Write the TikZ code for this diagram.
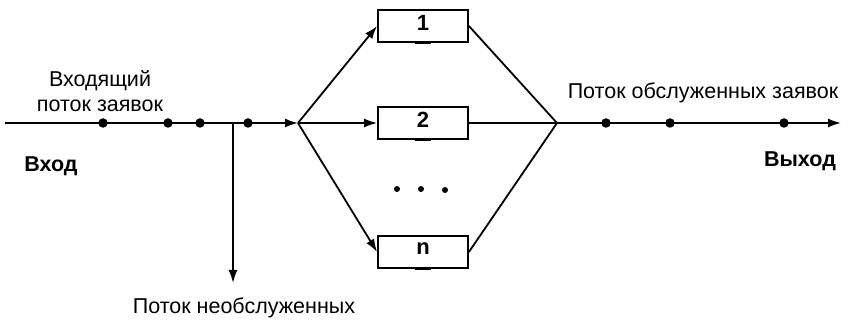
\documentclass[tikz,border=0pt]{standalone}
\usepackage{fontspec}
\setmainfont{Liberation Sans}
\usetikzlibrary{arrows.meta}
\begin{document}
\begin{tikzpicture}[x=1pt,y=-1pt,
  ln/.style={line width=1.8pt},
  arr/.style={ln,-{Latex[length=13pt,width=9pt]}},
  dot/.style={circle,fill=black,inner sep=0pt,minimum size=9.5pt},
  edot/.style={circle,fill=black,inner sep=0pt,minimum size=6pt},
  box/.style={draw,line width=1.8pt,minimum width=90pt,minimum height=32pt,inner sep=0pt},
  num/.style={font=\fontsize{22}{24}\selectfont\bfseries,inner sep=0pt},
  lbl/.style={font=\fontsize{21.5}{25}\selectfont,inner sep=0pt},
  blbl/.style={font=\fontsize{21.5}{25}\selectfont\bfseries,inner sep=0pt}]
\useasboundingbox (0,0) rectangle (849,323);
% coordinates
\coordinate (in) at (5,123);
\coordinate (s) at (298,123);
\coordinate (m) at (557,123);
\coordinate (out) at (841,123);
\coordinate (br) at (233,123);
\coordinate (brend) at (233,283);
% boxes
\node[box] (b1) at (423,26) {};
\node[box] (b2) at (423,123) {};
\node[box] (bn) at (423,252) {};
\node[num] (t1) at ([yshift=3pt]b1.center) {1};
\node[num] (t2) at ([yshift=3pt]b2.center) {2};
\node[num] (tn) at ([yshift=3pt]bn.center) {n};
% underlines
\foreach \b in {b1,b2,bn}{
  \draw[line width=3pt] ([xshift=-8pt]\b.south) -- ([xshift=8pt]\b.south);
}
% main input line
\draw[arr] (in) -- (s);
\draw[arr] (br) -- (brend);
\node[dot] (d1) at (103,123) {};
\node[dot] (d2) at (168,123) {};
\node[dot] (d3) at (200,123) {};
\node[dot] (d4) at (248,123) {};
% branches
\draw[arr] (s) -- (b1.west);
\draw[arr] (s) -- (b2.west);
\draw[arr] (s) -- (bn.west);
\draw[ln] (b1.east) -- (m);
\draw[ln] (b2.east) -- (m);
\draw[ln] (bn.east) -- (m);
% dots between
\node[edot] (e1) at (397,189) {};
\node[edot] (e2) at (421,189) {};
\node[edot] (e3) at (445,190) {};
% output
\draw[arr] (m) -- (out);
\node[dot] (o1) at (606,123) {};
\node[dot] (o2) at (670,123) {};
\node[dot] (o3) at (784,123) {};
% labels
\node[lbl,align=center] (tin) at (100,91) {Входящий\\поток заявок};
\node[blbl] (tvh) at (51,166) {Вход};
\node[blbl] (tvyh) at (800,161) {Выход};
\node[lbl] (tout) at (703,93) {Поток обслуженных заявок};
\node[lbl] (tun) at (244,308) {Поток необслуженных};
\end{tikzpicture}
\end{document}
